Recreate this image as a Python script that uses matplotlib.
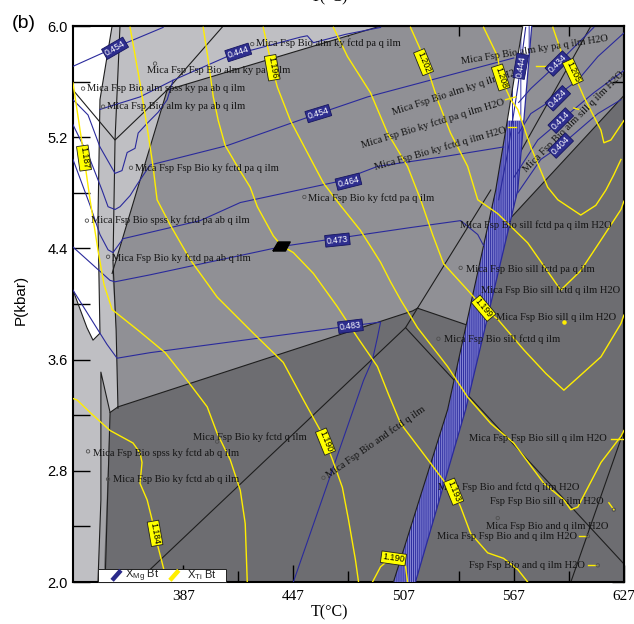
import matplotlib
matplotlib.use("Agg")
import matplotlib.pyplot as plt
from matplotlib.path import Path
from matplotlib.patches import Rectangle

plt.rcParams['font.family'] = ['Liberation Serif', 'DejaVu Serif']
plt.rcParams['mathtext.fontset'] = 'custom'
plt.rcParams['mathtext.rm'] = 'Liberation Sans'
plt.rcParams['hatch.linewidth'] = 0.7

# ---- phase fields (T in degC, P in kbar) ----
white_T = [327, 348.3, 341.7, 340.6, 341.7, 337.9, 334.6, 327]
white_P = [6.0, 6.0, 5.47, 4.60, 3.79, 3.74, 3.83, 4.10]
light_T = [327, 494.5, 378.3, 369.0, 361.9, 348.3, 350.5, 351.5, 347.2, 343.9, 341.7, 327]
light_P = [6.0, 6.0, 5.54, 5.13, 4.82, 4.22, 3.81, 3.25, 3.22, 2.11, 2.0, 2.0]
strip_T = [340.6, 342.2, 342.2, 347.2, 344.5]
strip_P = [2.0, 2.59, 3.51, 3.22, 2.0]
dark_T = [347.2, 351.5, 511.9, 514.6, 541.3, 562.6, 627, 627, 344.5, 343.9]
dark_P = [3.22, 3.26, 3.95, 3.97, 3.85, 4.58, 5.50, 2.0, 2.0, 2.11]

# dense XMg band
band_P = [2.0, 3.24, 4.82, 5.32, 6.0]
band_left_T = [501.5, 531.0, 557.2, 563.5, 571.9]
band_right_T = [513.5, 540.8, 569.2, 572.5, 576.8]

# ---- field boundaries ----
boundaries = {
    'V': ([327, 349.9, 378.3, 408.8], [5.54, 5.18, 5.54, 6.0]),
    'top': ([378.3, 494.5], [5.54, 6.0]),
    'white': ([348.3, 341.7, 340.6, 341.7, 337.9, 334.6, 327], [6.0, 5.47, 4.60, 3.79, 3.74, 3.83, 4.10]),
    'left': ([352.6, 349.9, 348.8, 350.5, 351.5], [6.0, 5.18, 4.30, 3.81, 3.25]),
    'field': ([378.3, 369.0, 361.9, 348.3], [5.54, 5.13, 4.82, 4.22]),
    'dark': ([351.5, 511.9, 514.6, 541.3], [3.26, 3.95, 3.97, 3.85]),
    'diag': ([367.4, 508.1, 514.6], [2.07, 3.83, 3.97]),
    'diag2': ([508.1, 627], [3.83, 2.13]),
    'right': ([598.1, 627], [2.0, 3.09]),
    'ky': ([514.6, 554.5], [3.97, 4.82]),
    'thin': ([556.1, 609.0], [4.75, 6.0]),
    'dkr': ([562.6, 627], [4.58, 5.50]),
    'strip': ([340.6, 342.2, 342.2, 347.2, 344.5], [2.0, 2.59, 3.51, 3.22, 2.0]),
    'strip2': ([347.2, 351.5], [3.22, 3.26]),
}

# ---- XMg Bt isopleths (blue) ----
xmg_lines = [
    ([327, 347.2, 376.1], [5.71, 5.83, 5.99]),
    ([341.7, 363.5, 381.5, 412.6, 425.2, 450.8, 454.6, 457.9, 475.4, 494.5],
     [5.40, 5.49, 5.61, 5.79, 5.83, 5.92, 5.93, 5.88, 5.94, 5.99]),
    ([327, 335.2, 341.7, 349.9, 353.7, 356.5, 360.8, 362.5, 367.4, 373.4, 378.3, 381.5],
     [5.47, 5.36, 5.13, 4.94, 4.96, 5.09, 5.12, 5.23, 5.30, 5.38, 5.47, 5.61]),
    ([327, 336.3, 342.8, 346.1, 349.9, 352.6, 358.1, 361.9, 369.0, 411.0, 456.3, 487.4, 527.2, 567.0],
     [5.29, 5.04, 4.82, 4.70, 4.68, 4.70, 4.78, 4.86, 5.0, 5.14, 5.35, 5.49, 5.63, 5.77]),
    ([327, 336.3, 341.7, 346.1, 348.8, 354.3, 396.3, 418.1, 471.0, 492.8, 528.8, 561.5],
     [5.04, 4.71, 4.50, 4.39, 4.37, 4.47, 4.60, 4.73, 4.88, 4.99, 5.06, 5.13]),
    ([327, 347.2, 349.9, 369.0, 436.1, 443.7, 510.8, 538.1, 547.4, 550.6],
     [4.41, 4.17, 4.16, 4.21, 4.40, 4.42, 4.55, 4.60, 4.50, 4.42]),
    ([327, 341.7, 345.5, 351.0, 369.0, 471.0, 494.5, 492.8, 490.1, 485.2, 447.0],
     [4.10, 3.79, 3.71, 3.61, 3.65, 3.83, 3.87, 3.76, 3.60, 3.45, 2.0]),
    ([573.5, 569.2, 563.7, 558.8], [5.99, 5.56, 5.09, 4.75]),
    ([569.7, 576.3, 584.5, 591.0, 600.8, 610.6], [5.45, 5.55, 5.65, 5.73, 5.86, 5.99]),
    ([569.7, 576.3, 584.5, 592.6, 601.9, 612.8, 627], [5.23, 5.37, 5.44, 5.52, 5.61, 5.78, 5.95]),
    ([567.0, 580.1, 592.6, 610.6, 627], [4.91, 5.18, 5.32, 5.52, 5.68]),
    ([569.2, 581.7, 592.6, 612.8, 625.4], [4.80, 5.04, 5.14, 5.37, 5.47]),
]
xmg_text = ['0.454', '0.444', '0.454', '0.464', '0.473', '0.483',
            '0.444', '0.434', '0.424', '0.414', '0.404']
xmg_T = [349.9, 417.0, 460.6, 477.0, 471.0, 478.1, 570.8, 591.0, 591.0, 592.6, 592.6]
xmg_P = [5.84, 5.81, 5.37, 4.88, 4.46, 3.84, 5.71, 5.73, 5.48, 5.32, 5.14]
xmg_rot = [30, 18, 17, 14, 6, 7, 80, 45, 45, 45, 45]

# ---- XTi Bt isopleths (yellow) ----
xti_lines = [
    ([327, 331.9, 336.3, 340.6, 343.9, 348.3, 363.5, 377.2, 389.2, 400.1, 405.5, 412.6, 418.1, 420.8, 421.9],
     [5.59, 5.16, 4.75, 4.39, 4.14, 3.96, 3.80, 3.65, 3.45, 3.26, 3.07, 2.88, 2.66, 2.42, 2.0]),
    ([327, 329.2, 336.3, 347.2, 359.7, 363.5, 364.6, 363.5, 367.4, 370.6, 372.8, 376.1, 378.3],
     [3.32, 3.31, 3.22, 3.09, 3.0, 2.93, 2.86, 2.71, 2.59, 2.42, 2.28, 2.11, 2.0]),
    ([358.1, 363.5, 367.4, 370.6, 372.8, 379.9, 390.8, 405.5, 425.2, 441.5, 452.5, 461.7, 464.5,
      468.3, 473.7, 477.0, 480.8, 482.5],
     [5.99, 5.59, 5.27, 4.99, 4.75, 4.57, 4.32, 4.05, 3.79, 3.58, 3.31, 3.09, 3.01,
      2.88, 2.68, 2.45, 2.16, 2.0]),
    ([397.9, 400.6, 403.4, 406.1, 409.9, 416.5, 423.5, 427.4, 436.1, 440.5, 447.0, 457.9, 471.0,
      481.9, 492.8, 498.8, 505.4, 516.3, 528.8, 534.3, 538.1, 543.5, 552.8, 561.5, 569.2, 574.6],
     [5.99, 5.76, 5.49, 5.32, 5.14, 4.99, 4.84, 4.70, 4.49, 4.42, 4.37, 4.22, 3.98,
      3.76, 3.55, 3.35, 3.14, 2.95, 2.73, 2.65, 2.54, 2.35, 2.21, 2.17, 2.09, 2.0]),
    ([430.6, 435.5, 438.3, 445.4, 454.6, 463.4, 472.6, 483.5, 494.5, 499.9, 505.4, 514.6, 531.0,
      541.9, 554.5, 567.0, 583.4, 594.3, 598.1, 601.9, 607.4, 614.5, 625.5, 627],
     [5.99, 5.70, 5.56, 5.32, 5.09, 4.87, 4.71, 4.53, 4.30, 4.16, 4.03, 3.83, 3.55,
      3.33, 3.14, 3.0, 2.71, 2.59, 2.52, 2.54, 2.68, 2.86, 3.05, 3.09]),
    ([468.8, 476.5, 489.0, 498.3, 509.2, 516.3, 522.8, 528.8, 541.9, 550.6, 558.3, 572.5, 584.5,
      594.3, 601.9, 614.5, 625.4, 627],
     [5.99, 5.78, 5.52, 5.23, 4.99, 4.75, 4.50, 4.29, 4.10, 3.97, 3.89, 3.67, 3.50,
      3.38, 3.47, 3.62, 3.86, 3.92]),
    ([510.8, 517.9, 525.5, 532.6, 541.9, 547.4, 558.3, 574.6, 592.6, 603.5, 614.5, 625.4, 627],
     [5.99, 5.78, 5.47, 5.23, 4.99, 4.75, 4.65, 4.44, 4.10, 4.24, 4.46, 4.68, 4.74]),
    ([550.6, 558.3, 559.9, 565.4, 569.2, 576.3, 585.5, 591.0, 603.5, 611.7, 617.2, 621.5, 625.4],
     [5.99, 5.78, 5.63, 5.47, 5.40, 5.13, 4.84, 4.75, 4.64, 4.71, 4.82, 4.93, 5.04]),
    ([588.3, 594.3, 599.2, 605.2, 614.5, 616.1, 619.9, 627],
     [5.99, 5.76, 5.67, 5.49, 5.25, 5.16, 5.18, 5.32]),
    ([490.1, 494.5, 499.9, 505.4, 508.1, 509.2], [2.0, 2.11, 2.17, 2.18, 2.11, 2.0]),
]
xti_text = ['1.187', '1.196', '1.202', '1.208', '1.205', '1.199', '1.190', '1.193', '1.190', '1.184']
xti_T = [333.0, 435.5, 517.9, 559.9, 599.2, 550.6, 464.5, 534.3, 501.5, 371.7]
xti_P = [5.05, 5.70, 5.74, 5.63, 5.67, 3.97, 3.01, 2.65, 2.17, 2.35]
xti_rot = [-82, -80, -68, -72, -65, -50, -68, -68, -8, -80]

# ---- assemblage labels ----
field_names = [
    'Mica Fsp Bio alm ky fctd pa q ilm',
    'Mica Fsp Fsp Bio alm ky pa q ilm',
    'Mica Fsp Bio alm spss ky pa ab q ilm',
    'Mica Fsp Bio alm ky pa ab q ilm',
    'Mica Fsp Fsp Bio ky fctd pa q ilm',
    'Mica Fsp Bio spss ky fctd pa ab q ilm',
    'Mica Fsp Bio ky fctd pa ab q ilm',
    'Mica Fsp Bio ky fctd pa q ilm',
    'Mica Fsp Bio sill fctd pa q ilm H2O',
    'Mica Fsp Bio sill fctd pa q ilm',
    'Mica Fsp Bio sill fctd q ilm H2O',
    'Mica Fsp Bio sill q ilm H2O',
    'Mica Fsp Bio sill fctd q ilm',
    'Mica Fsp Bio ky fctd q ilm',
    'Mica Fsp Bio spss ky fctd ab q ilm',
    'Mica Fsp Bio ky fctd ab q ilm',
    'Mica Fsp Fsp Bio sill q ilm H2O',
    'Mica Fsp Bio and fctd q ilm H2O',
    'Fsp Fsp Bio sill q ilm H2O',
    'Mica Fsp Bio and q ilm H2O',
    'Mica Fsp Fsp Bio and q ilm H2O',
    'Fsp Fsp Bio and q ilm H2O',
]
field_T = [426.8, 367.4, 334.6, 345.5, 360.8, 336.8, 348.3, 455.2, 537.6, 540.8, 549.0, 557.2,
           528.8, 392.5, 337.9, 348.8, 542.5, 526.0, 554.0, 551.8, 525.0, 542.5]
field_P = [5.88, 5.68, 5.55, 5.42, 4.98, 4.60, 4.33, 4.76, 4.57, 4.25, 4.10, 3.90,
           3.75, 3.04, 2.93, 2.74, 3.03, 2.68, 2.58, 2.40, 2.33, 2.12]

# rotated labels (centre, angle)
tilted_names = [
    'Mica Fsp Bio alm ky pa q ilm H2O',
    'Mica Fsp Bio alm ky q ilm H2O',
    'Mica Fsp Bio ky fctd pa q ilm H2O',
    'Mica Fsp Bio ky fctd q ilm H2O',
    'Mica Fsp Bio alm sill q ilm H2O',
    'Mica Fsp Bio and fctd q ilm',
]
tilted_T = [578.5, 536.5, 522.8, 527.2, 599.7, 491.7]
tilted_P = [5.83, 5.53, 5.30, 5.12, 5.31, 3.01]
tilted_rot = [9, 18, 17, 16, 45, 35]

dot_T = [424.6, 371.7, 332.5, 343.4, 358.6, 334.6, 346.1, 453.0, 538.1, 526.0, 405.5, 335.2,
         346.1, 463.4, 621.5, 558.3, 607.4, 612.8]
dot_P = [5.87, 5.73, 5.55, 5.42, 4.98, 4.60, 4.34, 4.77, 4.26, 3.75, 3.01, 2.94,
         2.74, 2.75, 2.52, 2.46, 2.33, 2.12]

leader_T = [(579.0, 585.5), (562.6, 568.1), (563.7, 568.1), (599.7, 602.4), (619.9, 627),
            (618.8, 621.5), (602.4, 606.3), (607.4, 611.7)]
leader_P = [(5.71, 5.71), (5.47, 5.49), (5.27, 5.27), (5.41, 5.40), (3.03, 3.03),
            (2.57, 2.52), (2.33, 2.33), (2.12, 2.12)]

point_T, point_P = 440.5, 4.42

C_LIGHT, C_MID, C_DARK, C_STRIP = '#bfbfc3', '#909095', '#6d6d71', '#a3a3a7'
BLUE, YELLOW = '#2a2a9c', '#ffee00'

fig = plt.figure(figsize=(6.34, 6.24), dpi=100)
ax = fig.add_axes([0.1151, 0.0673, 0.869, 0.891])
ax.set_facecolor(C_MID)

ax.fill(light_T, light_P, color=C_LIGHT, lw=0, zorder=1)
ax.fill(white_T, white_P, color='white', lw=0, zorder=1)
ax.fill(strip_T, strip_P, color=C_STRIP, lw=0, zorder=1)
ax.fill(dark_T, dark_P, color=C_DARK, lw=0, zorder=1)

for T, P in boundaries.values():
    ax.plot(T, P, color='#1e1e1e', lw=0.8, zorder=2)

# band of closely spaced XMg isopleths
lo_T = band_left_T[:4] + band_right_T[:4][::-1]
lo_P = band_P[:4] + band_P[:4][::-1]
hi_T = band_left_T[3:] + band_right_T[3:][::-1]
hi_P = band_P[3:] + band_P[3:][::-1]
ax.fill(lo_T, lo_P, facecolor='#8484d4', edgecolor='#2c2ca0', hatch='||||||||', lw=0, zorder=3)
ax.fill(hi_T, hi_P, facecolor='white', edgecolor='#3434a8', hatch='||', lw=0, zorder=3)
ax.plot(band_left_T, band_P, color='#1e1e1e', lw=0.8, zorder=3)
ax.plot(band_right_T, band_P, color=BLUE, lw=0.9, zorder=3)

for T, P in xmg_lines:
    ax.plot(T, P, color=BLUE, lw=0.8, zorder=4)
for T, P in xti_lines:
    ax.plot(T, P, color=YELLOW, lw=1.0, zorder=4)
for T, P in zip(leader_T, leader_P):
    ax.plot(T, P, color=YELLOW, lw=1.0, zorder=4)

# field labels
for name, T, P in zip(field_names, field_T, field_P):
    ax.text(T, P, name, fontsize=7.6, color='#141414', ha='left', va='center', zorder=6)
for name, T, P, r in zip(tilted_names, tilted_T, tilted_P, tilted_rot):
    ax.text(T, P, name, fontsize=7.6, color='#141414', ha='center', va='center',
            rotation=r, rotation_mode='anchor', zorder=6)
ax.scatter(dot_T, dot_P, s=6, facecolors='none', edgecolors='#505050', linewidths=0.6, zorder=6)
ax.scatter([594.3], [3.87], s=5, color=YELLOW, zorder=6)

# contour labels
for s, T, P, r in zip(xmg_text, xmg_T, xmg_P, xmg_rot):
    ax.text(T, P, s, fontsize=6.3, color='white', family='Liberation Sans', ha='center', va='center',
            rotation=r, rotation_mode='anchor', zorder=7,
            bbox=dict(boxstyle='square,pad=0.15', fc='#2e2e8e', ec='#151560', lw=0.6))
for s, T, P, r in zip(xti_text, xti_T, xti_P, xti_rot):
    ax.text(T, P, s, fontsize=6.3, color='black', family='Liberation Sans', ha='center', va='center',
            rotation=r, rotation_mode='anchor', zorder=7,
            bbox=dict(boxstyle='square,pad=0.15', fc='#ffff00', ec='#202020', lw=0.6))

diamond = Path([(-1, -0.52), (0.46, -0.52), (1, 0.52), (-0.38, 0.52), (-1, -0.52)])
ax.plot([point_T], [point_P], marker=diamond, markersize=12.5, color='black', zorder=8)

# legend box
ax.add_patch(Rectangle((0.045, 0.0), 0.233, 0.024, transform=ax.transAxes, fc='white',
                       ec='#202020', lw=0.7, zorder=10, clip_on=False))
ax.plot([0.071, 0.087], [0.003, 0.021], transform=ax.transAxes, color='#2a2a8a', lw=3.2,
        solid_capstyle='butt', zorder=11)
ax.plot([0.176, 0.192], [0.003, 0.021], transform=ax.transAxes, color=YELLOW, lw=3.2,
        solid_capstyle='butt', zorder=11)
ax.text(0.094, 0.012, r'X$_{\mathrm{Mg}}$ Bt', transform=ax.transAxes, fontsize=8,
        family='Liberation Sans', color='#202020', va='center', zorder=11)
ax.text(0.207, 0.012, r'X$_{\mathrm{Ti}}$ Bt', transform=ax.transAxes, fontsize=8,
        family='Liberation Sans', color='#202020', va='center', zorder=11)

ax.set_xlim(327, 627)
ax.set_ylim(2.0, 6.0)
ax.set_xticks([387, 447, 507, 567, 627])
ax.set_xticks([357, 417, 477, 537, 597], minor=True)
ax.set_yticks([2.0, 2.8, 3.6, 4.4, 5.2, 6.0])
ax.set_yticks([2.4, 3.2, 4.0, 4.8, 5.6], minor=True)
ax.set_yticklabels(['2.0', '2.8', '3.6', '4.4', '5.2', '6.0'], family='Liberation Sans', fontsize=10.5)
ax.set_xticklabels(['387', '447', '507', '567', '627'], fontsize=11)
ax.tick_params(axis='x', which='major', direction='in', length=12, width=1, pad=6)
ax.tick_params(axis='x', which='minor', direction='in', length=8, width=1)
ax.tick_params(axis='y', which='both', direction='in', length=12, width=1, pad=4)

sec_top = ax.secondary_xaxis('top')
sec_top.set_xticks([357, 417, 477, 537, 597])
sec_top.set_xticklabels([])
sec_top.tick_params(direction='in', length=7, width=1)
sec_right = ax.secondary_yaxis('right')
sec_right.set_yticks([2.0, 2.4, 2.8, 3.2, 3.6, 4.0, 4.4, 4.8, 5.2, 5.6])
sec_right.set_yticklabels([])
sec_right.tick_params(direction='in', length=9, width=1)

for sp in ax.spines.values():
    sp.set_linewidth(1.5)
for sec in (sec_top, sec_right):
    for sp in sec.spines.values():
        sp.set_linewidth(1.5)

fig.text(0.52, 0.019, 'T(°C)', fontsize=11.5, ha='center', va='center')
fig.text(0.52, 1.004, 'T(°C)', fontsize=11.5, ha='center', va='center')
fig.text(0.032, 0.52, 'P(kbar)', fontsize=11, family='Liberation Sans', rotation=90,
         ha='center', va='center')
fig.text(0.037, 0.962, '(b)', fontsize=14, family='Liberation Sans', ha='center', va='center')

fig.savefig('out.png', dpi=100)
